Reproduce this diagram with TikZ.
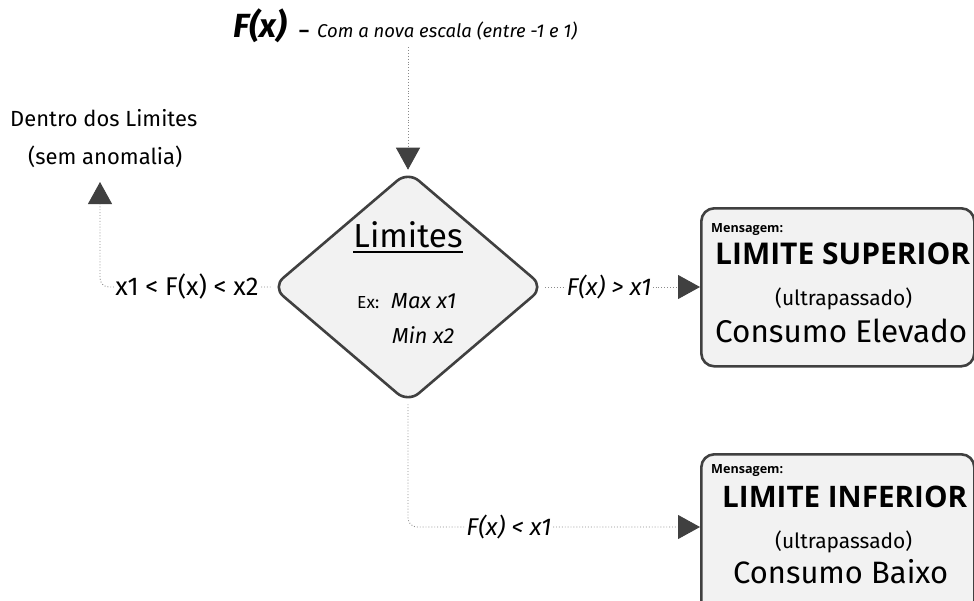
\documentclass[tikz,border=0pt]{standalone}
\usepackage{fontspec}
\usepackage{graphicx}
\setmainfont{Fira Sans}
\newfontfamily\headfont{Open Sans}
\usetikzlibrary{shapes.geometric,arrows.meta}
\definecolor{edgecol}{HTML}{404040}
\definecolor{boxfill}{HTML}{F2F2F2}
\definecolor{conncol}{HTML}{8A8A8A}
\newcommand{\fitw}[2]{\resizebox{#1}{!}{#2}}
\tikzset{
  connline/.style={draw=conncol, dotted, line width=0.9pt, rounded corners=9pt},
  bigtip/.style={-{Triangle[length=22pt,width=24pt,color=edgecol]}},
  msgbox/.style={draw=edgecol, fill=boxfill, line width=2.6pt, rounded corners=13pt, inner sep=0pt, anchor=north west},
  decision/.style={diamond, draw=edgecol, fill=boxfill, line width=2.6pt, rounded corners=14pt, inner sep=0pt, minimum width=272pt, minimum height=232pt, aspect=1.17},
  lbl/.style={inner sep=1pt, fill=white},
  txt/.style={inner sep=0pt, anchor=base},
  txtw/.style={inner sep=0pt, anchor=base west},
}
\begin{document}
\begin{tikzpicture}[x=1pt,y=-1pt]
\useasboundingbox (0,0) rectangle (974,600);

% title
\node[txtw] (title) at (233,37) {\fitw{54pt}{\bfseries\itshape F(x)}};
\node[txtw] (dash) at (299,37) {\fitw{10pt}{\bfseries --}};
\node[txtw] (sub) at (317,37) {\fitw{260pt}{\itshape Com a nova escala (entre -1 e 1)}};

% decision
\node[decision] (lim) at (408,287) {};
\node[txt] (limt) at (408,247) {\fitw{109pt}{\underline{Limites}}};
\node[txtw] (ex) at (357,308) {\fitw{22pt}{Ex:}};
\node[txtw] (max) at (391,308) {\fitw{65pt}{\itshape Max x1}};
\node[txtw] (min) at (392,343) {\fitw{62pt}{\itshape Min x2}};

% messages
\node[msgbox, minimum width=273pt, minimum height=158pt] (sup) at (700,207) {};
\node[txtw] (m1) at (711,232) {\fitw{72pt}{\headfont\bfseries Mensagem:}};
\node[txtw] (s1) at (715,264) {\fitw{255pt}{\headfont\bfseries LIMITE SUPERIOR}};
\node[txtw] (s2) at (775,305) {\fitw{137pt}{(ultrapassado)}};
\node[txtw] (s3) at (715,342) {\fitw{252pt}{Consumo Elevado}};

\node[msgbox, minimum width=273pt, minimum height=170pt] (inf) at (700,453) {};
\node[txtw] (m2) at (711,473) {\fitw{72pt}{\headfont\bfseries Mensagem:}};
\node[txtw] (i1) at (722,507) {\fitw{245pt}{\headfont\bfseries LIMITE INFERIOR}};
\node[txtw] (i2) at (775,548) {\fitw{137pt}{(ultrapassado)}};
\node[txtw] (i3) at (733,583) {\fitw{215pt}{Consumo Baixo}};

% left result
\node[txtw] (dentro) at (10,126) {\fitw{187pt}{Dentro dos Limites}};
\node[txtw] (sem) at (28,164) {\fitw{154pt}{(sem anomalia)}};

% connectors
\coordinate (top) at (408,47);
\draw[connline, bigtip] (top) -- (lim.north);

\coordinate (up) at (100,182);
\draw[connline, bigtip] (lim.west) -- (100,287) -- (up);
\node[lbl] (lblL) at (187,287) {\fitw{143pt}{x1 < F(x) < x2}};

\draw[connline, bigtip] (lim.east) -- (sup.west |- lim.east);
\node[lbl] (lblR) at (609,287) {\fitw{85pt}{\itshape F(x) > x1}};

\draw[connline, bigtip] (lim.south) -- (lim.south |- 0,527) -- (inf.west |- 0,527);
\node[lbl] (lblB) at (509,527) {\fitw{85pt}{\itshape F(x) < x1}};
\end{tikzpicture}
\end{document}
